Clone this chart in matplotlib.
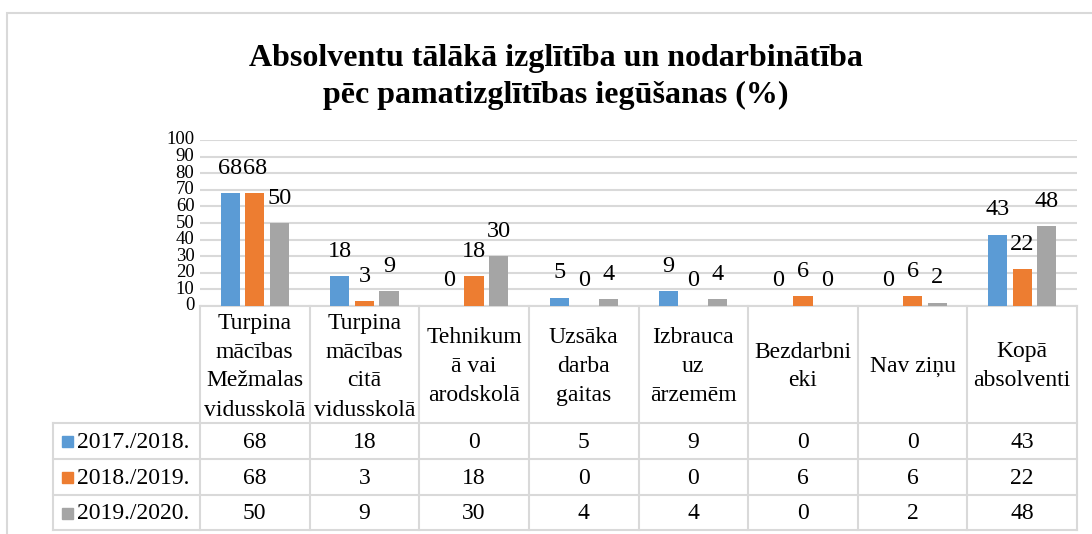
import numpy as np
import matplotlib
matplotlib.use("Agg")
import matplotlib.pyplot as plt
from matplotlib.lines import Line2D
from matplotlib.patches import Rectangle
from matplotlib.transforms import blended_transform_factory

plt.rcParams['font.family'] = ['Liberation Serif', 'DejaVu Serif']

# ---- data ----
categories = ["Turpina\nmācības\nMežmalas\nvidusskolā",
              "Turpina\nmācības\ncitā\nvidusskolā",
              "Tehnikum\nā vai\narodskolā",
              "Uzsāka\ndarba\ngaitas",
              "Izbrauca\nuz\nārzemēm",
              "Bezdarbni\neki",
              "Nav ziņu",
              "Kopā\nabsolventi"]
series_names = ["2017./2018.", "2018./2019.", "2019./2020."]
v_2017 = [68, 18, 0, 5, 9, 0, 0, 43]
v_2018 = [68, 3, 18, 0, 0, 6, 6, 22]
v_2019 = [50, 9, 30, 4, 4, 0, 2, 48]
series_values = [v_2017, v_2018, v_2019]
colors = ["#5B9BD5", "#ED7D31", "#A5A5A5"]
title = "Absolventu tālākā izglītība un nodarbinātība\npēc pamatizglītības iegūšanas (%)"

W, H = 1092, 534
fig = plt.figure(figsize=(W / 100, H / 100), dpi=100)

def fx(px):
    return px / W

def fy(py):
    return 1 - py / H

grid_c = "#D9D9D9"

# outer chart border
fig.add_artist(Rectangle((fx(7), fy(560)), fx(1100), fy(13) - fy(560),
                         transform=fig.transFigure, fill=False,
                         edgecolor=grid_c, linewidth=1.5))

ax = fig.add_axes([fx(200), fy(306), fx(1077) - fx(200), fy(140) - fy(306)])
n = len(categories)
x = np.arange(n)
bw = 0.175
step = 0.224
for k, (vals, c) in enumerate(zip(series_values, colors)):
    xs = x + (k - 1) * step
    ax.bar(xs, vals, width=bw, color=c, zorder=3)
    for xi, v in zip(xs, vals):
        ax.annotate(str(v), (xi, v), xytext=(0, 18), textcoords="offset points",
                    ha="center", va="center", fontsize=17.5, zorder=4)

ax.set_xlim(-0.5, n - 0.5)
ax.set_ylim(0, 100)
ax.set_yticks(range(0, 101, 10))
ax.yaxis.grid(True, color=grid_c, linewidth=1.5, zorder=0)
ax.set_axisbelow(True)
ax.set_xticks([])
for s in ["left", "right", "top"]:
    ax.spines[s].set_visible(False)
ax.spines["bottom"].set_color(grid_c)
ax.spines["bottom"].set_linewidth(1.5)
ax.tick_params(axis="y", length=0, labelsize=13.5, pad=4)
for lab in ax.get_yticklabels():
    lab.set_verticalalignment("center")

fig.text(0.509, fy(77), title, ha="center", va="center", fontsize=23,
         fontweight="bold", linespacing=1.4)

# ---- data table ----
tr = blended_transform_factory(ax.transData, fig.transFigure)
header_top, header_bot = 306, 423
row_edges = [423, 459, 495, 530]
legend_left = 53

# horizontal lines
for py in [header_bot] + row_edges[1:]:
    fig.add_artist(Line2D([fx(legend_left), fx(1077)], [fy(py), fy(py)],
                          transform=fig.transFigure, color=grid_c, linewidth=1.5))
fig.add_artist(Line2D([fx(legend_left), fx(legend_left)], [fy(header_bot), fy(530)],
                      transform=fig.transFigure, color=grid_c, linewidth=1.5))
for b in np.arange(n + 1) - 0.5:
    fig.add_artist(Line2D([b, b], [fy(header_top), fy(530)], transform=tr,
                          color=grid_c, linewidth=1.5))

for i, cat in enumerate(categories):
    fig.text(i, fy((header_top + header_bot) / 2 + 2), cat, transform=tr,
             ha="center", va="center", fontsize=17, linespacing=1.5)

for r, (name, vals, c) in enumerate(zip(series_names, series_values, colors)):
    yc = (row_edges[r] + row_edges[r + 1]) / 2
    fig.add_artist(Rectangle((fx(62), fy(yc + 6)), fx(11), fy(yc - 5) - fy(yc + 6),
                             transform=fig.transFigure, color=c))
    fig.text(fx(77), fy(yc + 1), name, ha="left", va="center", fontsize=17)
    for i, v in enumerate(vals):
        fig.text(i, fy(yc + 1), str(v), transform=tr, ha="center", va="center",
                 fontsize=17)

fig.savefig("out.png", dpi=100)
